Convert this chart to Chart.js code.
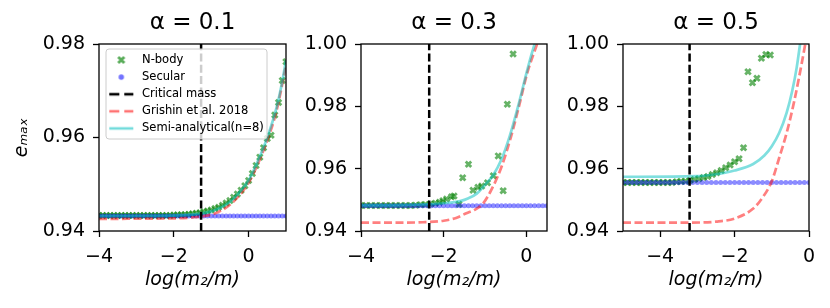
<!DOCTYPE html>
<html>
<head>
<meta charset="utf-8">
<script src="https://cdn.jsdelivr.net/npm/chart.js@4.4.1/dist/chart.umd.min.js"></script>
<style>
    body { margin: 0; background: #fff; }
    #figura { position: relative; width: 830px; height: 308px; }
    canvas { position: absolute; top: 0; }
</style>
</head>
<body>
<div id="figura">
    <canvas id="painel1" width="295" height="308" style="left:0px"></canvas>
    <canvas id="painel2" width="260" height="308" style="left:295px"></canvas>
    <canvas id="painel3" width="275" height="308" style="left:555px"></canvas>
</div>
<script>
// textos e eixos
const titulos = ["\u03b1 = 0.1", "\u03b1 = 0.3", "\u03b1 = 0.5"];
const rotulosLegenda = ["N-body", "Secular", "Critical mass", "Grishin et al. 2018", "Semi-analytical(n=8)"];
const limitesX = [[-4, 1], [-4, 0.5], [-5, 0]];
const limitesY = [[0.94, 0.98], [0.94, 1.0], [0.94, 1.0]];
const ticksX = [-4, -2, 0];
const ticksY = [[0.94, 0.96, 0.98], [0.94, 0.96, 0.98, 1.00], [0.94, 0.96, 0.98, 1.00]];
const massaCritica = [-1.27, -2.35, -3.21];

// alpha = 0.1
const gradeX1 = [-4.0,-3.9,-3.8,-3.7,-3.6,-3.5,-3.4,-3.3,-3.2,-3.1,-3.0,-2.9,-2.8,-2.7,-2.6,-2.5,-2.4,-2.3,-2.2,-2.1,
    -2.0,-1.9,-1.8,-1.7,-1.6,-1.5,-1.4,-1.3,-1.2,-1.1,-1.0,-0.9,-0.8,-0.7,-0.6,-0.5,-0.4,-0.3,-0.2,-0.1,
    0.0,0.1,0.2,0.3,0.4,0.5,0.6,0.7,0.8,0.9,1.0];
const nbodyY1 = [0.9433,0.9433,0.9433,0.9433,0.9433,0.9433,0.9433,0.9433,0.9433,0.9433,0.9433,0.9433,0.9433,0.9433,0.9433,0.9433,0.9433,0.9433,0.9433,0.9433,
    0.9434,0.9434,0.9435,0.9435,0.9436,0.9437,0.9438,0.9439,0.9441,0.9443,0.9445,0.9448,0.9451,0.9455,0.9460,0.9465,0.9472,0.9479,0.9487,0.9497,
    0.9508,0.9523,0.9540,0.9558,0.9578,0.9598,0.9605,0.9648,0.9675,0.9722,0.9762];
const secularY1 = [0.9432,0.9432,0.9432,0.9432,0.9432,0.9432,0.9432,0.9432,0.9432,0.9432,0.9432,0.9432,0.9432,0.9432,0.9432,0.9432,0.9432,0.9432,0.9432,0.9432,
    0.9432,0.9432,0.9432,0.9432,0.9432,0.9432,0.9432,0.9432,0.9432,0.9432,0.9432,0.9432,0.9432,0.9432,0.9432,0.9432,0.9432,0.9432,0.9432,0.9432,
    0.9432,0.9432,0.9432,0.9432,0.9432,0.9432,0.9432,0.9432,0.9432,0.9432,0.9432];
const semiX1 = [-4.0, -2.0, -1.5, -1.0, -0.75, -0.5, -0.25, 0.0, 0.25, 0.5, 0.75, 0.9, 1.0];
const semiY1 = [0.9432, 0.9433, 0.9435, 0.9442, 0.9450, 0.9462, 0.9482, 0.9508, 0.9550, 0.9600, 0.9665, 0.9720, 0.9765];
const grishinX1 = [-4.0, -2.0, -1.5, -1.0, -0.75, -0.5, -0.25, 0.0, 0.25, 0.5, 0.75, 1.0];
const grishinY1 = [0.9426, 0.9427, 0.9429, 0.9435, 0.9443, 0.9456, 0.9476, 0.9503, 0.9544, 0.9594, 0.9658, 0.9755];

// alpha = 0.3
const nbodyX2 = [-4.00,-3.88,-3.76,-3.64,-3.52,-3.40,-3.28,-3.16,-3.04,-2.92,-2.80,-2.68,-2.56,-2.44,-2.32,-2.20,
    -2.10,-2.02,-1.93,-1.81,-1.75,-1.63,-1.54,-1.40,-1.29,-1.17,-1.08,-0.94,-0.80,-0.68,-0.56,-0.46,-0.32];
const nbodyY2 = [0.9482,0.9482,0.9482,0.9482,0.9482,0.9482,0.9482,0.9482,0.9482,0.9482,0.9482,0.9483,0.9484,0.9485,0.9487,0.9489,
    0.9492,0.9497,0.9503,0.9510,0.9512,0.9486,0.9571,0.9614,0.9531,0.9540,0.9544,0.9555,0.9577,0.9641,0.9529,0.9807,0.9968];
const secularX2 = [-4.0,-3.9,-3.8,-3.7,-3.6,-3.5,-3.4,-3.3,-3.2,-3.1,-3.0,-2.9,-2.8,-2.7,-2.6,-2.5,-2.4,-2.3,-2.2,-2.1,
    -2.0,-1.9,-1.8,-1.7,-1.6,-1.5,-1.4,-1.3,-1.2,-1.1,-1.0,-0.9,-0.8,-0.7,-0.6,-0.5,-0.4,-0.3,-0.2,-0.1,
    0.0,0.1,0.2,0.3,0.4,0.5];
const secularY2 = [0.9481,0.9481,0.9481,0.9481,0.9481,0.9481,0.9481,0.9481,0.9481,0.9481,0.9481,0.9481,0.9481,0.9481,0.9481,0.9481,0.9481,0.9481,0.9481,0.9481,
    0.9481,0.9481,0.9481,0.9481,0.9481,0.9481,0.9481,0.9481,0.9481,0.9481,0.9481,0.9481,0.9481,0.9481,0.9481,0.9481,0.9481,0.9481,0.9481,0.9481,
    0.9481,0.9481,0.9481,0.9481,0.9481,0.9481];
const semiX2 = [-4.0, -3.0, -2.5, -2.0, -1.6, -1.4, -1.2, -1.0, -0.8, -0.6, -0.4, -0.2, 0.0, 0.1, 0.2];
const semiY2 = [0.9482, 0.9483, 0.9485, 0.9489, 0.9496, 0.9505, 0.9520, 0.9548, 0.9580, 0.9630, 0.9705, 0.9800, 0.9905, 0.9955, 1.0000];
const grishinX2 = [-4.0, -3.0, -2.5, -2.0, -1.7, -1.45, -1.25, -1.06, -0.85, -0.6, -0.37, -0.18, 0.02, 0.26];
const grishinY2 = [0.9427, 0.9427, 0.9428, 0.9433, 0.9442, 0.9457, 0.9468, 0.9486, 0.9531, 0.9606, 0.9703, 0.9799, 0.9906, 1.0000];

// alpha = 0.5
const nbodyX3 = [-5.00,-4.88,-4.76,-4.64,-4.52,-4.40,-4.28,-4.16,-4.04,-3.92,-3.80,-3.68,-3.56,-3.44,-3.32,-3.20,-3.08,
    -2.96,-2.84,-2.72,-2.60,-2.48,-2.36,-2.24,-2.12,-2.00,-1.88,-1.76,-1.64,-1.52,-1.40,-1.28,-1.16,-1.04];
const nbodyY3 = [0.9556,0.9556,0.9556,0.9556,0.9556,0.9556,0.9556,0.9556,0.9556,0.9556,0.9556,0.9556,0.9558,0.9559,0.9560,0.9562,0.9565,
    0.9568,0.9572,0.9575,0.9581,0.9587,0.9594,0.9603,0.9612,0.9622,0.9632,0.9667,0.9911,0.9876,0.9890,0.9954,0.9966,0.9965];
const secularX3 = [-5.0,-4.875,-4.75,-4.625,-4.5,-4.375,-4.25,-4.125,-4.0,-3.875,-3.75,-3.625,-3.5,-3.375,-3.25,-3.125,-3.0,
    -2.875,-2.75,-2.625,-2.5,-2.375,-2.25,-2.125,-2.0,-1.875,-1.75,-1.625,-1.5,-1.375,-1.25,-1.125,-1.0,
    -0.875,-0.75,-0.625,-0.5,-0.375,-0.25,-0.125,0.0];
const secularY3 = [0.9556,0.9556,0.9556,0.9556,0.9556,0.9556,0.9556,0.9556,0.9556,0.9556,0.9556,0.9556,0.9556,0.9556,0.9556,0.9556,0.9556,
    0.9556,0.9556,0.9556,0.9556,0.9556,0.9556,0.9556,0.9556,0.9556,0.9556,0.9556,0.9556,0.9556,0.9556,0.9556,0.9556,
    0.9556,0.9556,0.9556,0.9556,0.9556,0.9556,0.9556,0.9556];
const semiX3 = [-5.0, -3.0, -2.5, -2.0, -1.5, -1.2, -1.0, -0.8, -0.6, -0.45, -0.33, -0.24];
const semiY3 = [0.9574, 0.9576, 0.9582, 0.9594, 0.9615, 0.9642, 0.9672, 0.9715, 0.9780, 0.9850, 0.9925, 1.0000];
const grishinX3 = [-5.0, -3.2, -2.5, -2.0, -1.5, -1.25, -1.0, -0.8, -0.6, -0.4, -0.2, -0.1];
const grishinY3 = [0.9427, 0.9427, 0.9430, 0.9440, 0.9472, 0.9507, 0.9560, 0.9635, 0.9715, 0.9815, 0.9935, 1.0000];

const corNbody = "rgba(0,128,0,0.6)";
const corSecular = "rgba(0,0,255,0.45)";
const corCritica = "#000000";
const corGrishin = "rgba(255,0,0,0.5)";
const corSemi = "rgba(0,191,191,0.5)";
const fonte = "'DejaVu Sans', sans-serif";

const pontos = (xs, ys) => xs.map((x, i) => ({x: x, y: ys[i]}));
const formatarX = v => v < 0 ? "\u2212" + (-v) : String(v);

function criarIcone(desenhar) {
    const c = document.createElement("canvas");
    c.width = 26;
    c.height = 12;
    desenhar(c.getContext("2d"));
    return c;
}

function iconeLinha(cor, tracos) {
    return criarIcone(ctx => {
        ctx.strokeStyle = cor;
        ctx.lineWidth = 2.5;
        ctx.setLineDash(tracos);
        ctx.beginPath();
        ctx.moveTo(1, 6);
        ctx.lineTo(25, 6);
        ctx.stroke();
    });
}

const iconesLegenda = [
    criarIcone(ctx => {
        ctx.strokeStyle = corNbody;
        ctx.lineWidth = 2.8;
        ctx.beginPath();
        ctx.moveTo(10, 3); ctx.lineTo(16, 9);
        ctx.moveTo(16, 3); ctx.lineTo(10, 9);
        ctx.stroke();
    }),
    criarIcone(ctx => {
        ctx.fillStyle = "rgba(0,0,255,0.5)";
        ctx.beginPath();
        ctx.arc(13, 6, 2.7, 0, 2 * Math.PI);
        ctx.fill();
    }),
    iconeLinha(corCritica, [10, 5]),
    iconeLinha(corGrishin, [10, 5]),
    iconeLinha(corSemi, [])
];

// moldura dos eixos e caixa da legenda por cima dos dados
const pluginMoldura = {
    id: "moldura",
    afterLayout(chart, args, opts) {
        if (!opts.legenda) return;
        const leg = chart.legend;
        leg.left = opts.legenda.left;
        leg.top = opts.legenda.top;
        leg.right = chart.chartArea.right;
        leg.bottom = chart.chartArea.bottom;
    },
    afterDraw(chart, args, opts) {
        const ctx = chart.ctx;
        const a = chart.chartArea;
        ctx.save();
        ctx.strokeStyle = "#000";
        ctx.lineWidth = 1.3;
        ctx.strokeRect(a.left, a.top, a.right - a.left, a.bottom - a.top);
        if (opts.legenda) {
            const c = opts.legenda.caixa;
            ctx.beginPath();
            ctx.roundRect(c.x, c.y, c.w, c.h, 3);
            ctx.fillStyle = "rgba(255,255,255,0.8)";
            ctx.fill();
            ctx.strokeStyle = "#cccccc";
            ctx.lineWidth = 1;
            ctx.stroke();
        }
        ctx.restore();
        if (opts.legenda) chart.legend.draw();
    }
};

function criarPainel(id, i, series, medidas) {
    const [xMin, xMax] = limitesX[i];
    const [yMin, yMax] = limitesY[i];
    return new Chart(document.getElementById(id), {
        type: "scatter",
        plugins: [pluginMoldura],
        data: {
            datasets: [{
                label: rotulosLegenda[0],
                data: pontos(series.nbodyX, series.nbodyY),
                pointStyle: "crossRot",
                pointRadius: 3.9,
                borderWidth: 2.8,
                borderColor: corNbody,
                backgroundColor: corNbody,
                clip: 0,
                order: 5
            }, {
                label: rotulosLegenda[1],
                data: pontos(series.secularX, series.secularY),
                pointStyle: "circle",
                pointRadius: 2.5,
                borderWidth: 0,
                backgroundColor: corSecular,
                clip: 0,
                order: 4
            }, {
                type: "line",
                label: rotulosLegenda[2],
                data: pontos([massaCritica[i], massaCritica[i]], [yMin, yMax]),
                borderColor: corCritica,
                borderWidth: 2.5,
                borderDash: [8, 3.3],
                pointRadius: 0,
                clip: 0,
                order: 1
            }, {
                type: "line",
                label: rotulosLegenda[3],
                data: pontos(series.grishinX, series.grishinY),
                borderColor: corGrishin,
                borderWidth: 2.7,
                borderDash: [8, 3.5],
                cubicInterpolationMode: "monotone",
                pointRadius: 0,
                clip: 0,
                order: 3
            }, {
                type: "line",
                label: rotulosLegenda[4],
                data: pontos(series.semiX, series.semiY),
                borderColor: corSemi,
                borderWidth: 2.7,
                cubicInterpolationMode: "monotone",
                pointRadius: 0,
                clip: 0,
                order: 2
            }]
        },
        options: {
            responsive: false,
            animation: false,
            devicePixelRatio: 1,
            events: [],
            layout: { padding: { left: 0, right: medidas.direita, top: 0, bottom: 0 } },
            scales: {
                x: {
                    type: "linear",
                    min: xMin,
                    max: xMax,
                    afterBuildTicks: s => { s.ticks = ticksX.map(v => ({value: v})); },
                    afterFit: s => { s.height = 77; },
                    border: { display: false },
                    grid: { drawOnChartArea: false, drawTicks: true, tickLength: 6, tickWidth: 1.3, tickColor: "#000" },
                    ticks: { color: "#000", font: { family: fonte, size: 19 }, padding: 8.5, maxRotation: 0, autoSkip: false, callback: v => formatarX(v) },
                    title: { display: true, text: "log(m\u2082/m)", color: "#000", font: { family: fonte, size: 19, style: "italic" }, padding: { top: 0, bottom: 16.6 } }
                },
                y: {
                    type: "linear",
                    min: yMin,
                    max: yMax,
                    afterBuildTicks: s => { s.ticks = ticksY[i].map(v => ({value: v})); },
                    afterFit: s => { s.width = medidas.eixoY; },
                    border: { display: false },
                    grid: { drawOnChartArea: false, drawTicks: true, tickLength: 6, tickWidth: 1.3, tickColor: "#000" },
                    ticks: { color: "#000", font: { family: fonte, size: 19 }, padding: 8, autoSkip: false, callback: v => v.toFixed(2) },
                    title: { display: i === 0, text: "e\u2098\u2090\u2093", color: "#000", font: { family: fonte, size: 19, style: "italic" }, padding: { top: 10.3, bottom: 0 } }
                }
            },
            plugins: {
                tooltip: { enabled: false },
                title: {
                    display: true,
                    text: titulos[i],
                    fullSize: false,
                    color: "#000",
                    font: { family: fonte, size: 23, weight: "normal" },
                    padding: { top: 9.2, bottom: 7.2 }
                },
                legend: {
                    display: i === 0,
                    position: "chartArea",
                    align: "start",
                    labels: {
                        usePointStyle: true,
                        pointStyleWidth: 30,
                        padding: 5.6,
                        color: "#000",
                        font: { family: fonte, size: 11.5 },
                        sort: (a, b) => a.datasetIndex - b.datasetIndex,
                        generateLabels: chart => {
                            const itens = Chart.defaults.plugins.legend.labels.generateLabels(chart);
                            itens.forEach(item => { item.pointStyle = iconesLegenda[item.datasetIndex]; });
                            return itens;
                        }
                    }
                },
                moldura: {
                    legenda: i === 0 ? { left: 100.7, top: 48.65, caixa: { x: 106, y: 49, w: 161, h: 90 } } : null
                }
            }
        }
    });
}

criarPainel("painel1", 0,
    { nbodyX: gradeX1, nbodyY: nbodyY1, secularX: gradeX1, secularY: secularY1, semiX: semiX1, semiY: semiY1, grishinX: grishinX1, grishinY: grishinY1 },
    { eixoY: 99, direita: 9 });
criarPainel("painel2", 1,
    { nbodyX: nbodyX2, nbodyY: nbodyY2, secularX: secularX2, secularY: secularY2, semiX: semiX2, semiY: semiY2, grishinX: grishinX2, grishinY: grishinY2 },
    { eixoY: 66, direita: 8 });
criarPainel("painel3", 2,
    { nbodyX: nbodyX3, nbodyY: nbodyY3, secularX: secularX3, secularY: secularY3, semiX: semiX3, semiY: semiY3, grishinX: grishinX3, grishinY: grishinY3 },
    { eixoY: 68, direita: 21 });
</script>
</body>
</html>
